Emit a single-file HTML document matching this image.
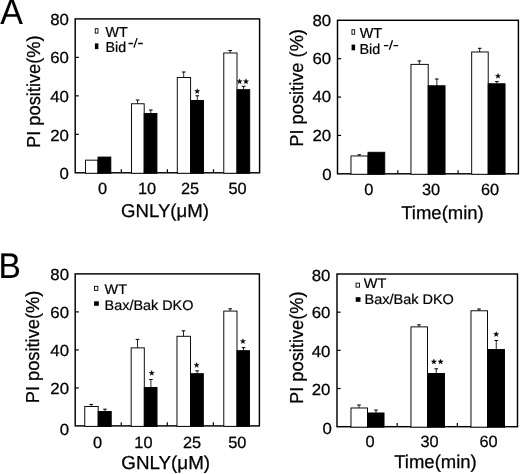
<!DOCTYPE html>
<html><head><meta charset="utf-8"><title>Figure</title>
<style>
html,body{margin:0;padding:0;background:#fff;}
svg{display:block;font-family:"Liberation Sans", sans-serif;fill:#000;text-rendering:geometricPrecision;will-change:transform;}
</style></head>
<body>
<svg width="520" height="474" viewBox="0 0 520 474">
<rect width="520" height="474" fill="#fff"/>
<g font-family='"Liberation Sans", sans-serif'>
<text transform="translate(0.30 24.10) scale(1.0 1.055)" font-size="34" text-anchor="start" stroke="#000" stroke-width="0.1" >A</text>
<text transform="translate(-1.40 278.30) scale(1.0 1.06)" font-size="33.5" text-anchor="start" stroke="#000" stroke-width="0.1" >B</text>
<rect x="75.2" y="18.9" width="184.40" height="153.90" fill="none" stroke="#000" stroke-width="1.45"/>
<text transform="translate(68.90 25.00) scale(1.05 1.0)" font-size="16" text-anchor="end" stroke="#000" stroke-width="0.25" >80</text>
<path d="M75.2 57.38h3.6" stroke="#000" stroke-width="1.2"/>
<text transform="translate(68.90 63.18) scale(1.05 1.0)" font-size="16" text-anchor="end" stroke="#000" stroke-width="0.25" >60</text>
<path d="M75.2 95.85h3.6" stroke="#000" stroke-width="1.2"/>
<text transform="translate(68.90 101.95) scale(1.05 1.0)" font-size="16" text-anchor="end" stroke="#000" stroke-width="0.25" >40</text>
<path d="M75.2 134.33h3.6" stroke="#000" stroke-width="1.2"/>
<text transform="translate(68.90 141.13) scale(1.05 1.0)" font-size="16" text-anchor="end" stroke="#000" stroke-width="0.25" >20</text>
<text transform="translate(68.90 178.50) scale(1.05 1.0)" font-size="16" text-anchor="end" stroke="#000" stroke-width="0.25" >0</text>
<path d="M121.30 172.8v-3.6" stroke="#000" stroke-width="1.2"/>
<path d="M167.40 172.8v-3.6" stroke="#000" stroke-width="1.2"/>
<path d="M213.50 172.8v-3.6" stroke="#000" stroke-width="1.2"/>
<rect x="85.47" y="160.17" width="12.52" height="13.10" fill="#fff" stroke="#000" stroke-width="0.95"/>
<rect x="98.00" y="157.07" width="12.82" height="16.20" fill="#000" stroke="#000" stroke-width="0.95"/>
<text transform="translate(102.50 194.30) scale(1.01 1.0)" font-size="16.2" text-anchor="middle" stroke="#000" stroke-width="0.25" >0</text>
<path d="M137.60 104.30V100.00" stroke="#000" stroke-width="0.85" fill="none"/><path d="M135.80 100.00H139.40" stroke="#000" stroke-width="1.05" fill="none"/>
<path d="M150.80 114.00V110.00" stroke="#000" stroke-width="0.85" fill="none"/><path d="M149.00 110.00H152.60" stroke="#000" stroke-width="1.05" fill="none"/>
<rect x="131.47" y="103.77" width="12.72" height="69.50" fill="#fff" stroke="#000" stroke-width="0.95"/>
<rect x="144.20" y="113.47" width="12.73" height="59.80" fill="#000" stroke="#000" stroke-width="0.95"/>
<text transform="translate(147.00 194.30) scale(1.01 1.0)" font-size="16.2" text-anchor="middle" stroke="#000" stroke-width="0.25" >10</text>
<path d="M183.70 78.00V72.00" stroke="#000" stroke-width="0.85" fill="none"/><path d="M181.90 72.00H185.50" stroke="#000" stroke-width="1.05" fill="none"/>
<path d="M197.30 101.00V95.80" stroke="#000" stroke-width="0.85" fill="none"/><path d="M195.50 95.80H199.10" stroke="#000" stroke-width="1.05" fill="none"/>
<rect x="177.28" y="77.47" width="13.32" height="95.80" fill="#fff" stroke="#000" stroke-width="0.95"/>
<rect x="190.60" y="100.47" width="12.93" height="72.80" fill="#000" stroke="#000" stroke-width="0.95"/>
<polygon points="197.20,88.65 197.88,90.47 199.82,90.55 198.29,91.76 198.82,93.62 197.20,92.55 195.58,93.62 196.11,91.76 194.58,90.55 196.52,90.47" fill="#000" stroke="#000" stroke-width="0.3" stroke-linejoin="miter"/>
<text transform="translate(190.10 194.30) scale(1.01 1.0)" font-size="16.2" text-anchor="middle" stroke="#000" stroke-width="0.25" >25</text>
<path d="M230.15 53.50V50.50" stroke="#000" stroke-width="0.85" fill="none"/><path d="M228.35 50.50H231.95" stroke="#000" stroke-width="1.05" fill="none"/>
<path d="M243.60 90.20V86.30" stroke="#000" stroke-width="0.85" fill="none"/><path d="M241.80 86.30H245.40" stroke="#000" stroke-width="1.05" fill="none"/>
<rect x="223.78" y="52.98" width="13.22" height="120.30" fill="#fff" stroke="#000" stroke-width="0.95"/>
<rect x="237.00" y="89.67" width="12.72" height="83.60" fill="#000" stroke="#000" stroke-width="0.95"/>
<polygon points="239.60,78.75 240.28,80.57 242.22,80.65 240.69,81.86 241.22,83.72 239.60,82.65 237.98,83.72 238.51,81.86 236.98,80.65 238.92,80.57" fill="#000" stroke="#000" stroke-width="0.3" stroke-linejoin="miter"/>
<polygon points="246.00,78.75 246.68,80.57 248.62,80.65 247.09,81.86 247.62,83.72 246.00,82.65 244.38,83.72 244.91,81.86 243.38,80.65 245.32,80.57" fill="#000" stroke="#000" stroke-width="0.3" stroke-linejoin="miter"/>
<text transform="translate(237.60 194.30) scale(1.01 1.0)" font-size="16.2" text-anchor="middle" stroke="#000" stroke-width="0.25" >50</text>
<text transform="translate(165.00 217.20) scale(1.0 1.0)" font-size="18.6" text-anchor="middle" stroke="#000" stroke-width="0.25" >GNLY(μM)</text>
<text transform="translate(40.3 91.7) rotate(-90) scale(0.972 1)" font-size="18.8" text-anchor="middle" stroke="#000" stroke-width="0.25">PI positive(%)</text>
<rect x="95.25" y="28.65" width="2.70" height="4.50" fill="#fff" stroke="#000" stroke-width="0.9"/>
<rect x="94.90" y="43.40" width="3.50" height="5.70" fill="#000"/>
<text transform="translate(105.60 36.60) scale(0.99 1.0)" font-size="14.4" text-anchor="start" stroke="#000" stroke-width="0.2" >WT</text>
<text transform="translate(105.60 52.40) scale(0.99 1.0)" font-size="14.4" text-anchor="start" stroke="#000" stroke-width="0.2" >Bid</text>
<path d="M128.50 43.50h4.5M138.10 43.50h4.7M133.90 47.60L137.10 38.10" stroke="#000" stroke-width="1.3" fill="none"/>
<rect x="337.5" y="20.3" width="180.90" height="153.50" fill="none" stroke="#000" stroke-width="1.45"/>
<text transform="translate(331.20 25.70) scale(1.05 1.0)" font-size="16" text-anchor="end" stroke="#000" stroke-width="0.25" >80</text>
<path d="M337.5 58.68h3.6" stroke="#000" stroke-width="1.2"/>
<text transform="translate(331.20 64.08) scale(1.05 1.0)" font-size="16" text-anchor="end" stroke="#000" stroke-width="0.25" >60</text>
<path d="M337.5 97.05h3.6" stroke="#000" stroke-width="1.2"/>
<text transform="translate(331.20 102.45) scale(1.05 1.0)" font-size="16" text-anchor="end" stroke="#000" stroke-width="0.25" >40</text>
<path d="M337.5 135.43h3.6" stroke="#000" stroke-width="1.2"/>
<text transform="translate(331.20 140.83) scale(1.05 1.0)" font-size="16" text-anchor="end" stroke="#000" stroke-width="0.25" >20</text>
<text transform="translate(331.70 180.30) scale(1.05 1.0)" font-size="16" text-anchor="end" stroke="#000" stroke-width="0.25" >0</text>
<path d="M397.80 173.8v-3.6" stroke="#000" stroke-width="1.2"/>
<path d="M458.10 173.8v-3.6" stroke="#000" stroke-width="1.2"/>
<path d="M359.25 156.50V154.80" stroke="#000" stroke-width="0.85" fill="none"/><path d="M357.45 154.80H361.05" stroke="#000" stroke-width="1.05" fill="none"/>
<rect x="350.98" y="155.97" width="17.03" height="18.30" fill="#fff" stroke="#000" stroke-width="0.95"/>
<rect x="368.00" y="152.28" width="16.73" height="22.00" fill="#000" stroke="#000" stroke-width="0.95"/>
<text transform="translate(368.80 195.20) scale(1.01 1.0)" font-size="16.2" text-anchor="middle" stroke="#000" stroke-width="0.25" >0</text>
<path d="M419.35 64.90V60.90" stroke="#000" stroke-width="0.85" fill="none"/><path d="M417.55 60.90H421.15" stroke="#000" stroke-width="1.05" fill="none"/>
<path d="M436.85 86.30V79.00" stroke="#000" stroke-width="0.85" fill="none"/><path d="M435.05 79.00H438.65" stroke="#000" stroke-width="1.05" fill="none"/>
<rect x="410.98" y="64.38" width="17.23" height="109.90" fill="#fff" stroke="#000" stroke-width="0.95"/>
<rect x="428.20" y="85.77" width="16.83" height="88.50" fill="#000" stroke="#000" stroke-width="0.95"/>
<text transform="translate(431.00 195.20) scale(1.01 1.0)" font-size="16.2" text-anchor="middle" stroke="#000" stroke-width="0.25" >30</text>
<path d="M479.70 52.50V48.30" stroke="#000" stroke-width="0.85" fill="none"/><path d="M477.90 48.30H481.50" stroke="#000" stroke-width="1.05" fill="none"/>
<path d="M496.85 84.30V81.60" stroke="#000" stroke-width="0.85" fill="none"/><path d="M495.05 81.60H498.65" stroke="#000" stroke-width="1.05" fill="none"/>
<rect x="471.68" y="51.98" width="16.53" height="122.30" fill="#fff" stroke="#000" stroke-width="0.95"/>
<rect x="488.20" y="83.77" width="16.83" height="90.50" fill="#000" stroke="#000" stroke-width="0.95"/>
<polygon points="498.00,73.35 498.68,75.17 500.62,75.25 499.09,76.46 499.62,78.32 498.00,77.25 496.38,78.32 496.91,76.46 495.38,75.25 497.32,75.17" fill="#000" stroke="#000" stroke-width="0.3" stroke-linejoin="miter"/>
<text transform="translate(490.00 195.20) scale(1.01 1.0)" font-size="16.2" text-anchor="middle" stroke="#000" stroke-width="0.25" >60</text>
<text transform="translate(442.50 219.00) scale(1.0 1.0)" font-size="18.5" text-anchor="middle" stroke="#000" stroke-width="0.25" >Time(min)</text>
<text transform="translate(303.2 87.9) rotate(-90) scale(0.972 1)" font-size="18.8" text-anchor="middle" stroke="#000" stroke-width="0.25">PI positive (%)</text>
<rect x="351.95" y="29.75" width="2.70" height="4.50" fill="#fff" stroke="#000" stroke-width="0.9"/>
<rect x="351.60" y="44.60" width="3.50" height="5.70" fill="#000"/>
<text transform="translate(359.70 37.90) scale(1.0 1.0)" font-size="14.4" text-anchor="start" stroke="#000" stroke-width="0.2" >WT</text>
<text transform="translate(359.50 53.70) scale(1.0 1.0)" font-size="14.4" text-anchor="start" stroke="#000" stroke-width="0.2" >Bid</text>
<path d="M383.90 45.60h4.5M393.50 45.60h4.7M389.30 49.70L392.50 40.20" stroke="#000" stroke-width="1.3" fill="none"/>
<rect x="75.2" y="273.9" width="184.20" height="152.00" fill="none" stroke="#000" stroke-width="1.45"/>
<text transform="translate(69.00 280.30) scale(1.05 1.0)" font-size="16" text-anchor="end" stroke="#000" stroke-width="0.25" >80</text>
<path d="M75.2 311.90h3.6" stroke="#000" stroke-width="1.2"/>
<text transform="translate(69.00 318.00) scale(1.05 1.0)" font-size="16" text-anchor="end" stroke="#000" stroke-width="0.25" >60</text>
<path d="M75.2 349.90h3.6" stroke="#000" stroke-width="1.2"/>
<text transform="translate(69.00 356.00) scale(1.05 1.0)" font-size="16" text-anchor="end" stroke="#000" stroke-width="0.25" >40</text>
<path d="M75.2 387.90h3.6" stroke="#000" stroke-width="1.2"/>
<text transform="translate(69.00 394.00) scale(1.05 1.0)" font-size="16" text-anchor="end" stroke="#000" stroke-width="0.25" >20</text>
<text transform="translate(69.00 434.70) scale(1.05 1.0)" font-size="16" text-anchor="end" stroke="#000" stroke-width="0.25" >0</text>
<path d="M121.25 425.9v-3.6" stroke="#000" stroke-width="1.2"/>
<path d="M167.30 425.9v-3.6" stroke="#000" stroke-width="1.2"/>
<path d="M213.35 425.9v-3.6" stroke="#000" stroke-width="1.2"/>
<path d="M91.25 407.00V404.40" stroke="#000" stroke-width="0.85" fill="none"/><path d="M89.45 404.40H93.05" stroke="#000" stroke-width="1.05" fill="none"/>
<path d="M104.95 412.00V409.20" stroke="#000" stroke-width="0.85" fill="none"/><path d="M103.15 409.20H106.75" stroke="#000" stroke-width="1.05" fill="none"/>
<rect x="84.77" y="406.48" width="13.43" height="19.90" fill="#fff" stroke="#000" stroke-width="0.95"/>
<rect x="98.20" y="411.48" width="13.02" height="14.90" fill="#000" stroke="#000" stroke-width="0.95"/>
<text transform="translate(97.50 447.90) scale(1.01 1.0)" font-size="16.2" text-anchor="middle" stroke="#000" stroke-width="0.25" >0</text>
<path d="M137.50 348.40V339.40" stroke="#000" stroke-width="0.85" fill="none"/><path d="M135.70 339.40H139.30" stroke="#000" stroke-width="1.05" fill="none"/>
<path d="M150.90 388.00V379.50" stroke="#000" stroke-width="0.85" fill="none"/><path d="M149.10 379.50H152.70" stroke="#000" stroke-width="1.05" fill="none"/>
<rect x="131.17" y="347.88" width="13.13" height="78.50" fill="#fff" stroke="#000" stroke-width="0.95"/>
<rect x="144.30" y="387.48" width="12.72" height="38.90" fill="#000" stroke="#000" stroke-width="0.95"/>
<polygon points="151.70,370.35 152.38,372.17 154.32,372.25 152.79,373.46 153.32,375.32 151.70,374.25 150.08,375.32 150.61,373.46 149.08,372.25 151.02,372.17" fill="#000" stroke="#000" stroke-width="0.3" stroke-linejoin="miter"/>
<text transform="translate(143.40 447.90) scale(1.01 1.0)" font-size="16.2" text-anchor="middle" stroke="#000" stroke-width="0.25" >10</text>
<path d="M183.50 336.80V330.80" stroke="#000" stroke-width="0.85" fill="none"/><path d="M181.70 330.80H185.30" stroke="#000" stroke-width="1.05" fill="none"/>
<path d="M197.15 374.20V370.80" stroke="#000" stroke-width="0.85" fill="none"/><path d="M195.35 370.80H198.95" stroke="#000" stroke-width="1.05" fill="none"/>
<rect x="176.97" y="336.28" width="13.52" height="90.10" fill="#fff" stroke="#000" stroke-width="0.95"/>
<rect x="190.50" y="373.68" width="12.83" height="52.70" fill="#000" stroke="#000" stroke-width="0.95"/>
<polygon points="196.60,362.45 197.28,364.27 199.22,364.35 197.69,365.56 198.22,367.42 196.60,366.35 194.98,367.42 195.51,365.56 193.98,364.35 195.92,364.27" fill="#000" stroke="#000" stroke-width="0.3" stroke-linejoin="miter"/>
<text transform="translate(192.00 447.90) scale(1.01 1.0)" font-size="16.2" text-anchor="middle" stroke="#000" stroke-width="0.25" >25</text>
<path d="M230.15 311.60V308.80" stroke="#000" stroke-width="0.85" fill="none"/><path d="M228.35 308.80H231.95" stroke="#000" stroke-width="1.05" fill="none"/>
<path d="M243.50 351.20V347.60" stroke="#000" stroke-width="0.85" fill="none"/><path d="M241.70 347.60H245.30" stroke="#000" stroke-width="1.05" fill="none"/>
<rect x="223.78" y="311.08" width="13.22" height="115.30" fill="#fff" stroke="#000" stroke-width="0.95"/>
<rect x="237.00" y="350.68" width="12.52" height="75.70" fill="#000" stroke="#000" stroke-width="0.95"/>
<polygon points="242.90,338.65 243.58,340.47 245.52,340.55 243.99,341.76 244.52,343.62 242.90,342.55 241.28,343.62 241.81,341.76 240.28,340.55 242.22,340.47" fill="#000" stroke="#000" stroke-width="0.3" stroke-linejoin="miter"/>
<text transform="translate(237.30 447.90) scale(1.01 1.0)" font-size="16.2" text-anchor="middle" stroke="#000" stroke-width="0.25" >50</text>
<text transform="translate(165.70 469.00) scale(1.0 1.0)" font-size="18.8" text-anchor="middle" stroke="#000" stroke-width="0.25" >GNLY(μM)</text>
<text transform="translate(39.2 347.0) rotate(-90) scale(0.972 1)" font-size="18.8" text-anchor="middle" stroke="#000" stroke-width="0.25">PI positive(%)</text>
<rect x="94.45" y="286.35" width="3.40" height="4.00" fill="#fff" stroke="#000" stroke-width="0.9"/>
<rect x="94.10" y="301.30" width="4.70" height="4.50" fill="#000"/>
<text transform="translate(104.60 294.10) scale(1.028 1.0)" font-size="14" text-anchor="start" stroke="#000" stroke-width="0.2" >WT</text>
<text transform="translate(104.60 310.20) scale(1.028 1.0)" font-size="14" text-anchor="start" stroke="#000" stroke-width="0.2" >Bax/Bak DKO</text>
<rect x="337" y="274.0" width="180.50" height="152.70" fill="none" stroke="#000" stroke-width="1.45"/>
<text transform="translate(330.40 280.70) scale(1.05 1.0)" font-size="16" text-anchor="end" stroke="#000" stroke-width="0.25" >80</text>
<path d="M337 312.17h3.6" stroke="#000" stroke-width="1.2"/>
<text transform="translate(330.40 318.27) scale(1.05 1.0)" font-size="16" text-anchor="end" stroke="#000" stroke-width="0.25" >60</text>
<path d="M337 350.35h3.6" stroke="#000" stroke-width="1.2"/>
<text transform="translate(330.40 356.85) scale(1.05 1.0)" font-size="16" text-anchor="end" stroke="#000" stroke-width="0.25" >40</text>
<path d="M337 388.52h3.6" stroke="#000" stroke-width="1.2"/>
<text transform="translate(330.40 395.12) scale(1.05 1.0)" font-size="16" text-anchor="end" stroke="#000" stroke-width="0.25" >20</text>
<text transform="translate(331.80 434.00) scale(1.05 1.0)" font-size="16" text-anchor="end" stroke="#000" stroke-width="0.25" >0</text>
<path d="M397.17 426.7v-3.6" stroke="#000" stroke-width="1.2"/>
<path d="M457.33 426.7v-3.6" stroke="#000" stroke-width="1.2"/>
<path d="M359.00 408.50V405.00" stroke="#000" stroke-width="0.85" fill="none"/><path d="M357.20 405.00H360.80" stroke="#000" stroke-width="1.05" fill="none"/>
<path d="M376.00 413.50V410.00" stroke="#000" stroke-width="0.85" fill="none"/><path d="M374.20 410.00H377.80" stroke="#000" stroke-width="1.05" fill="none"/>
<rect x="350.98" y="407.98" width="16.53" height="19.20" fill="#fff" stroke="#000" stroke-width="0.95"/>
<rect x="367.50" y="412.98" width="16.53" height="14.20" fill="#000" stroke="#000" stroke-width="0.95"/>
<text transform="translate(370.00 446.50) scale(1.01 1.0)" font-size="16.2" text-anchor="middle" stroke="#000" stroke-width="0.25" >0</text>
<path d="M419.00 327.40V324.80" stroke="#000" stroke-width="0.85" fill="none"/><path d="M417.20 324.80H420.80" stroke="#000" stroke-width="1.05" fill="none"/>
<path d="M436.25 374.00V368.80" stroke="#000" stroke-width="0.85" fill="none"/><path d="M434.45 368.80H438.05" stroke="#000" stroke-width="1.05" fill="none"/>
<rect x="410.98" y="326.88" width="16.53" height="100.30" fill="#fff" stroke="#000" stroke-width="0.95"/>
<rect x="427.50" y="373.48" width="17.03" height="53.70" fill="#000" stroke="#000" stroke-width="0.95"/>
<polygon points="433.90,359.05 434.58,360.87 436.52,360.95 434.99,362.16 435.52,364.02 433.90,362.95 432.28,364.02 432.81,362.16 431.28,360.95 433.22,360.87" fill="#000" stroke="#000" stroke-width="0.3" stroke-linejoin="miter"/>
<polygon points="440.60,359.05 441.28,360.87 443.22,360.95 441.69,362.16 442.22,364.02 440.60,362.95 438.98,364.02 439.51,362.16 437.98,360.95 439.92,360.87" fill="#000" stroke="#000" stroke-width="0.3" stroke-linejoin="miter"/>
<text transform="translate(429.50 446.50) scale(1.01 1.0)" font-size="16.2" text-anchor="middle" stroke="#000" stroke-width="0.25" >30</text>
<path d="M479.00 311.30V309.00" stroke="#000" stroke-width="0.85" fill="none"/><path d="M477.20 309.00H480.80" stroke="#000" stroke-width="1.05" fill="none"/>
<path d="M496.25 350.00V340.50" stroke="#000" stroke-width="0.85" fill="none"/><path d="M494.45 340.50H498.05" stroke="#000" stroke-width="1.05" fill="none"/>
<rect x="470.98" y="310.78" width="16.53" height="116.40" fill="#fff" stroke="#000" stroke-width="0.95"/>
<rect x="487.50" y="349.48" width="17.03" height="77.70" fill="#000" stroke="#000" stroke-width="0.95"/>
<polygon points="496.20,331.55 496.88,333.37 498.82,333.45 497.29,334.66 497.82,336.52 496.20,335.45 494.58,336.52 495.11,334.66 493.58,333.45 495.52,333.37" fill="#000" stroke="#000" stroke-width="0.3" stroke-linejoin="miter"/>
<text transform="translate(488.60 446.50) scale(1.01 1.0)" font-size="16.2" text-anchor="middle" stroke="#000" stroke-width="0.25" >60</text>
<text transform="translate(435.50 467.50) scale(1.0 1.0)" font-size="18.5" text-anchor="middle" stroke="#000" stroke-width="0.25" >Time(min)</text>
<text transform="translate(302.6 347.7) rotate(-90) scale(0.972 1)" font-size="18.8" text-anchor="middle" stroke="#000" stroke-width="0.25">PI positive(%)</text>
<rect x="356.05" y="283.15" width="3.40" height="4.00" fill="#fff" stroke="#000" stroke-width="0.9"/>
<rect x="355.70" y="297.20" width="4.80" height="4.60" fill="#000"/>
<text transform="translate(363.80 287.60) scale(1.035 1.0)" font-size="14" text-anchor="start" stroke="#000" stroke-width="0.2" >WT</text>
<text transform="translate(364.50 304.00) scale(1.035 1.0)" font-size="14" text-anchor="start" stroke="#000" stroke-width="0.2" >Bax/Bak DKO</text>
</g>
</svg>
</body></html>
